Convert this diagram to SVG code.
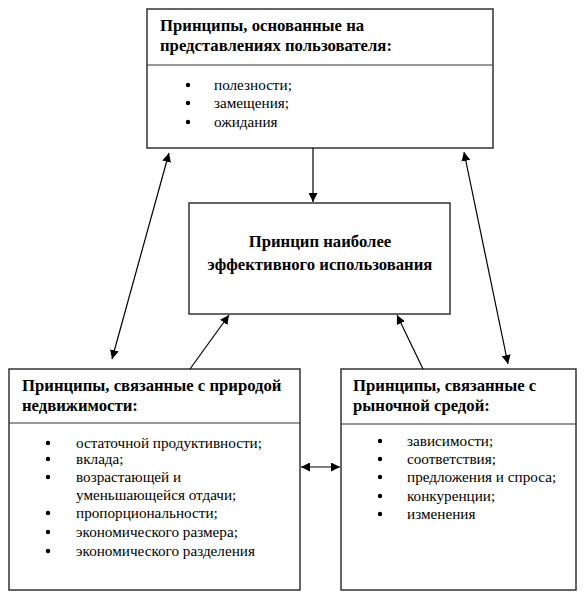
<svg xmlns="http://www.w3.org/2000/svg" width="585" height="600" viewBox="0 0 585 600">
<style>
.box{fill:#fff;stroke:#333;stroke-width:1.5}
.div{stroke:#333;stroke-width:1.2}
.t{font-family:"Liberation Serif","Times New Roman",serif;font-weight:bold;font-size:16.7px;fill:#000}
.b{font-family:"Liberation Serif","Times New Roman",serif;font-size:15.2px;fill:#000}
.c{stroke:#000;stroke-width:1.2;fill:none}
</style>
<defs>
<marker id="ah" viewBox="0 0 10 10" refX="10" refY="5" markerWidth="9" markerHeight="9" markerUnits="userSpaceOnUse" orient="auto-start-reverse">
<path d="M0,0 L10,5 L0,10 z" fill="#000"/>
</marker>
</defs>
<rect width="585" height="600" fill="#fff"/>
<g id="top">
<rect class="box" x="147" y="9" width="346" height="139"/>
<line class="div" x1="147" y1="65" x2="493" y2="65"/>
<text class="t" x="160" y="31">Принципы, основанные на</text>
<text class="t" x="160" y="51">представлениях пользователя:</text>
<circle cx="188" cy="85" r="2.2"/><text class="b" x="214" y="90">полезности;</text>
<circle cx="188" cy="103" r="2.2"/><text class="b" x="214" y="108">замещения;</text>
<circle cx="188" cy="122" r="2.2"/><text class="b" x="214" y="127">ожидания</text>
</g>
<g id="center">
<rect class="box" x="189" y="203" width="261" height="111"/>
<text class="t" x="320" y="247" text-anchor="middle">Принцип наиболее</text>
<text class="t" x="320" y="270" text-anchor="middle">эффективного использования</text>
</g>
<g id="left">
<rect class="box" x="9" y="369" width="291" height="221"/>
<line class="div" x1="9" y1="423" x2="300" y2="423"/>
<text class="t" x="22" y="391">Принципы, связанные с природой</text>
<text class="t" x="22" y="411">недвижимости:</text>
<circle cx="48" cy="443" r="2.2"/><text class="b" x="76" y="448">остаточной продуктивности;</text>
<circle cx="48" cy="459" r="2.2"/><text class="b" x="76" y="464">вклада;</text>
<circle cx="48" cy="477" r="2.2"/><text class="b" x="76" y="482">возрастающей и</text>
<text class="b" x="76" y="500">уменьшающейся отдачи;</text>
<circle cx="48" cy="513" r="2.2"/><text class="b" x="76" y="518">пропорциональности;</text>
<circle cx="48" cy="532" r="2.2"/><text class="b" x="76" y="537">экономического размера;</text>
<circle cx="48" cy="551" r="2.2"/><text class="b" x="76" y="556">экономического разделения</text>
</g>
<g id="right">
<rect class="box" x="341" y="369" width="235" height="221"/>
<line class="div" x1="341" y1="424" x2="576" y2="424"/>
<text class="t" x="353" y="391">Принципы, связанные с</text>
<text class="t" x="353" y="411">рыночной средой:</text>
<circle cx="380" cy="441" r="2.2"/><text class="b" x="407" y="446">зависимости;</text>
<circle cx="380" cy="459" r="2.2"/><text class="b" x="407" y="464">соответствия;</text>
<circle cx="380" cy="477" r="2.2"/><text class="b" x="407" y="482">предложения и спроса;</text>
<circle cx="380" cy="496" r="2.2"/><text class="b" x="407" y="501">конкуренции;</text>
<circle cx="380" cy="514" r="2.2"/><text class="b" x="407" y="519">изменения</text>
</g>
<g id="connectors">
<line class="c" x1="313" y1="148" x2="313" y2="202" marker-end="url(#ah)"/>
<line class="c" x1="169" y1="153" x2="112" y2="359" marker-start="url(#ah)" marker-end="url(#ah)"/>
<line class="c" x1="464" y1="152" x2="508" y2="364" marker-start="url(#ah)" marker-end="url(#ah)"/>
<line class="c" x1="190" y1="369" x2="229" y2="315" marker-end="url(#ah)"/>
<line class="c" x1="423" y1="369" x2="397" y2="315" marker-end="url(#ah)"/>
<line class="c" x1="301" y1="467" x2="340" y2="467" marker-start="url(#ah)" marker-end="url(#ah)"/>
</g>
</svg>
